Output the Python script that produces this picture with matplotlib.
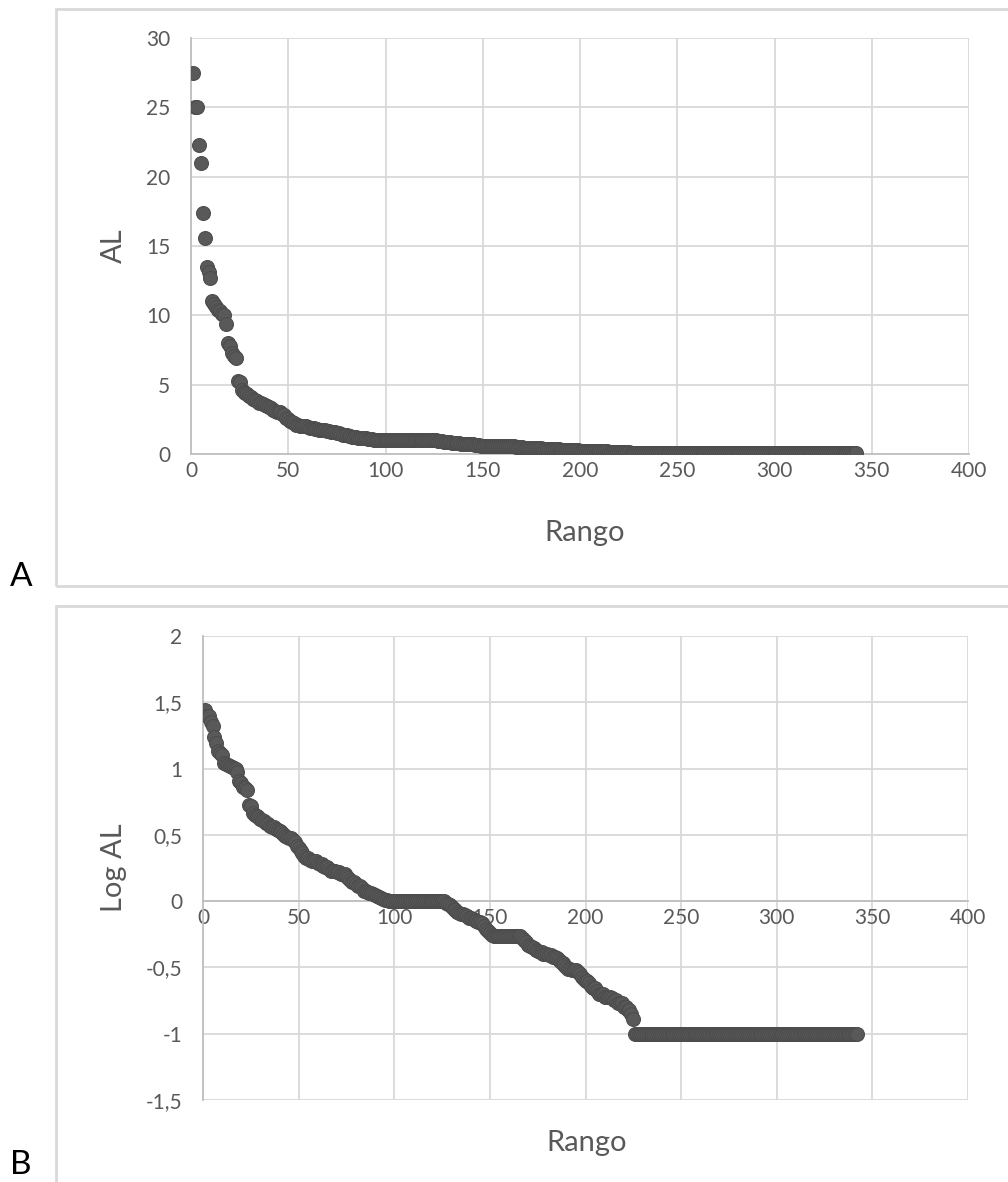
import numpy as np
import matplotlib
matplotlib.use("Agg")
import matplotlib.pyplot as plt
from matplotlib.ticker import FuncFormatter
from matplotlib.patches import Rectangle

plt.rcParams["font.family"] = ["Lato", "DejaVu Sans"]

# AL values per rank, rank 1 = largest
al_top = [27.5, 25, 25, 22.3, 21, 17.4, 15.6, 13.5, 13.1, 12.7,
          11.0, 10.8, 10.6, 10.4, 10.3, 10.1, 10.0, 9.4,
          8.0, 7.8, 7.3, 7.1, 6.9, 5.3, 5.2]
al_mid = [4.6, 4.5, 4.4, 4.3, 4.2, 4.1, 4.0, 3.9, 3.8, 3.7,
          3.65, 3.6, 3.5, 3.45, 3.4, 3.3, 3.2, 3.1, 3.05, 3.0,
          3.0, 2.9, 2.8, 2.6, 2.5, 2.4, 2.3, 2.2, 2.1, 2.1,
          2.05, 2.0, 2.0, 2.0, 1.95, 1.9, 1.9, 1.85, 1.8, 1.8,
          1.75, 1.7, 1.7, 1.7, 1.65, 1.65, 1.6, 1.6, 1.6, 1.55,
          1.5, 1.45, 1.4, 1.4, 1.35, 1.3, 1.3, 1.25, 1.2, 1.2,
          1.18, 1.16, 1.15, 1.14, 1.12, 1.1, 1.07, 1.05, 1.04, 1.02, 1.02]
al_one = [1.0] * 30
al_low = [0.97, 0.95, 0.93, 0.9, 0.88, 0.85, 0.83,
          0.82, 0.8, 0.8, 0.78, 0.77, 0.75, 0.75, 0.73, 0.72, 0.71, 0.7, 0.7,
          0.68, 0.65, 0.62, 0.6, 0.58, 0.56]
al_step = [0.55] * 15
al_tail = [0.53, 0.51, 0.49, 0.47, 0.46, 0.45, 0.44, 0.43, 0.42,
           0.41, 0.41, 0.4, 0.4, 0.4, 0.39, 0.39, 0.38, 0.38, 0.37,
           0.36, 0.35, 0.34, 0.33, 0.32, 0.31, 0.31, 0.3, 0.3, 0.3,
           0.29, 0.28, 0.27, 0.26, 0.25, 0.25,
           0.24, 0.23, 0.22, 0.22, 0.21, 0.2, 0.2,
           0.2, 0.19, 0.19, 0.19, 0.19, 0.185, 0.18,
           0.18, 0.17, 0.17, 0.17, 0.16, 0.16, 0.15,
           0.15, 0.14, 0.13]
al_min = [0.1] * 117

al = np.array(al_top + al_mid + al_one + al_low + al_step + al_tail + al_min)
rango = np.arange(1, len(al) + 1)
log_al = np.log10(al)

x_ticks = [0, 50, 100, 150, 200, 250, 300, 350, 400]
a_yticks = [0, 5, 10, 15, 20, 25, 30]
b_yticks = [-1.5, -1, -0.5, 0, 0.5, 1, 1.5, 2]

W, H = 1008, 1182
fig = plt.figure(figsize=(W / 100, H / 100), dpi=100)

txt = "#595959"
grid = "#d9d9d9"
axc = "#bfbfbf"
dot = "#595959"

def comma(v, pos):
    return ("%g" % v).replace(".", ",")

def px_axes(l, r, t, b):
    return fig.add_axes([l / W, 1 - b / H, (r - l) / W, (b - t) / H])

def style(ax):
    ax.set_xticks(x_ticks)
    ax.grid(True, color=grid, linewidth=1.3)
    ax.set_axisbelow(True)
    for s in ["top", "right"]:
        ax.spines[s].set_visible(False)
    ax.spines["left"].set_color(axc)
    ax.spines["bottom"].set_color(axc)
    ax.spines["left"].set_linewidth(1.3)
    ax.spines["bottom"].set_linewidth(1.3)
    ax.tick_params(length=0, labelsize=15, colors=txt)
    ax.tick_params(axis="y", pad=15)
    ax.tick_params(axis="x", pad=5)
    ax.yaxis.set_major_formatter(FuncFormatter(comma))

# frames
fig.add_artist(Rectangle((56 / W, 1 - 586 / H), 1.0, 577 / H, transform=fig.transFigure,
                         fill=False, edgecolor=grid, linewidth=2))
fig.add_artist(Rectangle((56 / W, 1 - 1200 / H), 1.0, 594 / H, transform=fig.transFigure,
                         fill=False, edgecolor=grid, linewidth=2))

# panel A
axA = px_axes(191, 969, 38, 454)
axA.scatter(rango, al, s=100, color=dot, edgecolors="#4d4d4d", linewidths=0.8, zorder=3)
axA.set_xlim(0, 400)
axA.set_ylim(0, 30)
axA.set_yticks(a_yticks)
style(axA)
fig.text(585 / W, 1 - 533 / H, "Rango", ha="center", va="center", fontsize=21, color=txt)
fig.text(114 / W, 1 - 246 / H, "AL", ha="center", va="center", fontsize=21, color=txt, rotation=90)
fig.text(21 / W, 1 - 577 / H, "A", ha="center", va="center", fontsize=24, color="black")

# panel B
axB = px_axes(203, 968, 636, 1100)
axB.scatter(rango, log_al, s=100, color=dot, edgecolors="#4d4d4d", linewidths=0.8, zorder=3)
axB.set_xlim(0, 400)
axB.set_ylim(-1.5, 2)
axB.set_yticks(b_yticks)
style(axB)
axB.spines["bottom"].set_position(("data", 0))
fig.text(587 / W, 1 - 1143 / H, "Rango", ha="center", va="center", fontsize=21, color=txt)
fig.text(114 / W, 1 - 868 / H, "Log AL", ha="center", va="center", fontsize=21, color=txt, rotation=90)
fig.text(21 / W, 1 - 1180 / H, "B", ha="center", va="bottom", fontsize=24, color="black")

fig.savefig("out.png", dpi=100)
